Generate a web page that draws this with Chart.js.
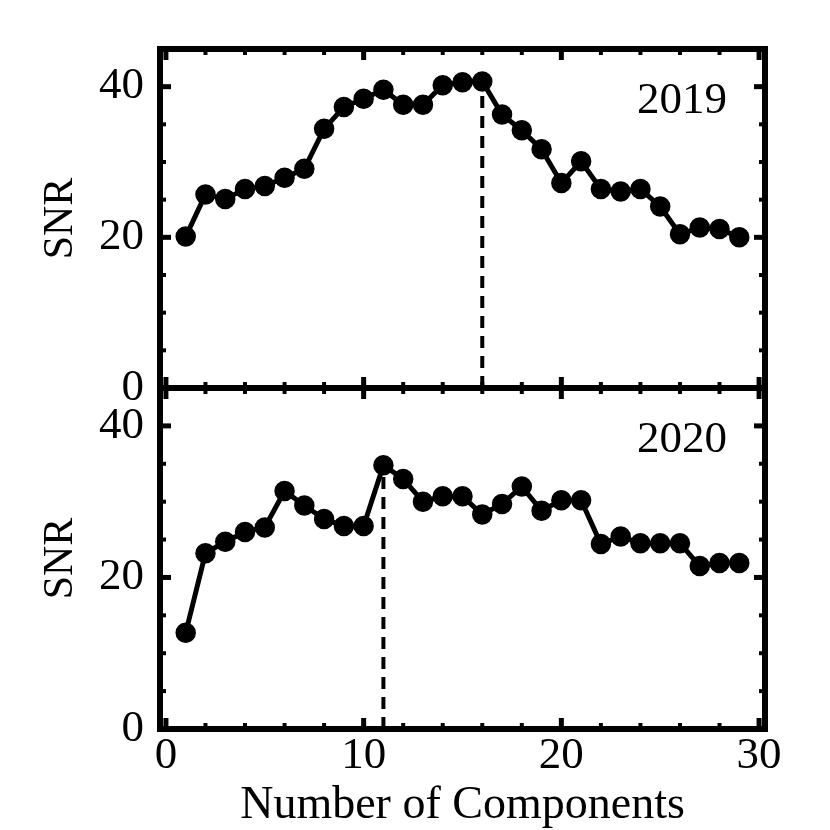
<!DOCTYPE html>
<html>
<head>
<meta charset="utf-8">
<script src="https://cdn.jsdelivr.net/npm/chart.js@4/dist/chart.umd.min.js"></script>
<style>
  body { margin: 0; background: #fff; }
  #wrap { position: relative; width: 830px; height: 830px; }
  canvas { position: absolute; left: 0; }
  #topChart { top: 0; }
  #botChart { top: 370px; }
</style>
</head>
<body>
<div id="wrap">
  <canvas id="topChart" width="830" height="420"></canvas>
  <canvas id="botChart" width="830" height="460"></canvas>
</div>
<script>
// data
const components = [1, 2, 3, 4, 5, 6, 7, 8, 9, 10, 11, 12, 13, 14, 15, 16, 17, 18, 19, 20, 21, 22, 23, 24, 25, 26, 27, 28, 29];
const snr2019 = [20.1, 25.7, 25.1, 26.4, 26.8, 27.9, 29.1, 34.4, 37.3, 38.4, 39.6, 37.6, 37.6, 40.2, 40.6, 40.7, 36.3, 34.2, 31.7, 27.2, 30.1, 26.4, 26.1, 26.4, 24.1, 20.4, 21.3, 21.1, 20.0];
const snr2020 = [12.7, 23.2, 24.7, 26.0, 26.6, 31.4, 29.5, 27.7, 26.8, 26.8, 34.8, 33.0, 30.0, 30.7, 30.7, 28.3, 29.7, 32.0, 28.8, 30.2, 30.2, 24.4, 25.4, 24.5, 24.5, 24.5, 21.5, 21.9, 21.9];
const best2019 = 16;
const best2020 = 11;

// ticks
const xMajorTicks = [0, 10, 20, 30];
const xMinorTicks = [2, 4, 6, 8, 12, 14, 16, 18, 22, 24, 26, 28];
const yMajorTicks = [0, 20, 40];
const yMinorTicks = [5, 10, 15, 25, 30, 35];

const FONT = "'Liberation Serif', 'Times New Roman', serif";

function toPoints(ys) {
    return components.map((c, i) => ({ x: c, y: ys[i] }));
}

// box around the panel with inward ticks on all four sides, plus the year label
const framePlugin = {
    id: 'frame',
    beforeDatasetsDraw(chart, args, opts) {
        const { ctx, chartArea: a, scales: { x, y } } = chart;
        ctx.save();
        ctx.strokeStyle = '#000';
        ctx.lineCap = 'butt';
        const seg = (x1, y1, x2, y2, w) => {
            ctx.lineWidth = w;
            ctx.beginPath();
            ctx.moveTo(x1, y1);
            ctx.lineTo(x2, y2);
            ctx.stroke();
        };
        xMajorTicks.forEach(v => {
            const px = x.getPixelForValue(v);
            seg(px, a.bottom, px, a.bottom - 11, 5);
            seg(px, a.top, px, a.top + 11, 5);
        });
        xMinorTicks.forEach(v => {
            const px = x.getPixelForValue(v);
            seg(px, a.bottom, px, a.bottom - 6, 4);
            seg(px, a.top, px, a.top + 6, 4);
        });
        yMajorTicks.forEach(v => {
            const py = y.getPixelForValue(v);
            seg(a.left, py, a.left + 11, py, 5);
            seg(a.right, py, a.right - 11, py, 5);
        });
        yMinorTicks.forEach(v => {
            const py = y.getPixelForValue(v);
            seg(a.left, py, a.left + 6, py, 4);
            seg(a.right, py, a.right - 6, py, 4);
        });
        ctx.lineWidth = 6;
        ctx.strokeRect(a.left, a.top, a.right - a.left, a.bottom - a.top);
        ctx.restore();
    },
    afterDraw(chart, args, opts) {
        const { ctx, chartArea: a } = chart;
        ctx.save();
        ctx.fillStyle = '#000';
        ctx.font = '45px ' + FONT;
        ctx.textAlign = 'right';
        ctx.textBaseline = 'alphabetic';
        ctx.fillText(opts.year, a.right - 38, a.top + 64);
        ctx.restore();
    }
};

function panelConfig(ys, best, year, padding, showX) {
    return {
        type: 'line',
        data: {
            datasets: [
                {
                    data: toPoints(ys),
                    borderColor: '#000',
                    backgroundColor: '#000',
                    borderWidth: 5,
                    pointRadius: 9.5,
                    pointBorderWidth: 1.5,
                    order: 0
                },
                {
                    data: [{ x: best, y: 0 }, { x: best, y: ys[components.indexOf(best)] }],
                    borderColor: '#000',
                    borderWidth: 4,
                    borderDash: [12, 8],
                    pointRadius: 0,
                    order: 1
                }
            ]
        },
        options: {
            responsive: false,
            animation: false,
            layout: { padding: padding },
            plugins: {
                legend: { display: false },
                tooltip: { enabled: false },
                frame: { year: year }
            },
            scales: {
                x: {
                    type: 'linear',
                    min: -0.3,
                    max: 30.3,
                    display: showX,
                    afterFit(s) {
                        s.height = showX ? 101 : 0;
                        s.paddingLeft = 0;
                        s.paddingRight = 0;
                    },
                    afterBuildTicks(s) { s.ticks = xMajorTicks.map(v => ({ value: v })); },
                    grid: { display: false },
                    border: { display: false },
                    ticks: { color: '#000', padding: -8, maxRotation: 0, font: { family: FONT, size: 45 } },
                    title: {
                        display: true,
                        text: 'Number of Components',
                        color: '#000',
                        font: { family: FONT, size: 46 },
                        padding: { top: 0, bottom: -4 }
                    }
                },
                y: {
                    min: 0,
                    max: 45,
                    afterFit(s) {
                        s.width = 160;
                        s.paddingTop = 0;
                        s.paddingBottom = 0;
                    },
                    afterBuildTicks(s) { s.ticks = yMajorTicks.map(v => ({ value: v })); },
                    grid: { display: false },
                    border: { display: false },
                    ticks: { color: '#000', padding: 8, font: { family: FONT, size: 45 } },
                    title: {
                        display: true,
                        text: 'SNR',
                        color: '#000',
                        font: { family: FONT, size: 42 },
                        padding: { top: 36, bottom: 0 }
                    }
                }
            }
        },
        plugins: [framePlugin]
    };
}

new Chart(document.getElementById('topChart'),
    panelConfig(snr2019, best2019, '2019', { left: 0, top: 49, right: 65, bottom: 32 }, false));
new Chart(document.getElementById('botChart'),
    panelConfig(snr2020, best2020, '2020', { left: 0, top: 18, right: 65, bottom: 0 }, true));
</script>
</body>
</html>
